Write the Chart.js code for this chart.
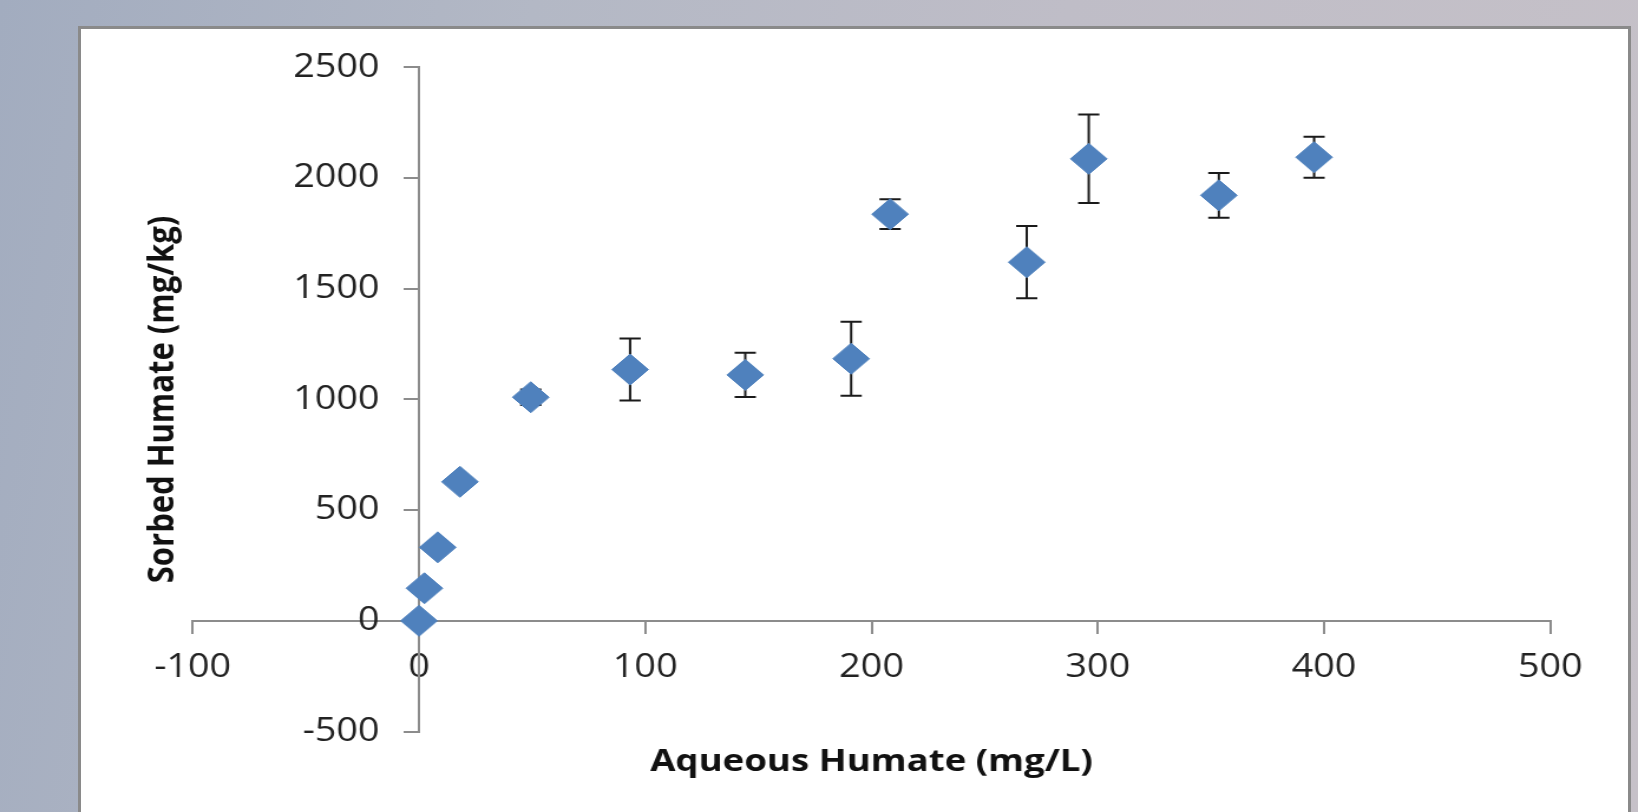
<!DOCTYPE html>
<html>
<head>
<meta charset="utf-8">
<script src="https://cdn.jsdelivr.net/npm/chart.js@4.4.1/dist/chart.umd.min.js"></script>
<style>
html, body { margin: 0; padding: 0; width: 1638px; height: 812px; overflow: hidden; }
body { position: relative; background: linear-gradient(100deg, #a2acbf 0%, #b3b8c5 30%, #bfbdc7 60%, #c6c1c8 100%); }
#panel { position: absolute; left: 78px; top: 26px; width: 1547px; height: 820px; background: #ffffff; border: 3px solid #8a8a8a; border-bottom: none; }
#wrap { position: absolute; left: 0; top: 0; width: 1388px; height: 812px; transform: scaleX(1.18012); transform-origin: 0 0; }
canvas { display: block; }
</style>
</head>
<body>
<div id="panel"></div>
<div id="wrap"><canvas id="c" width="1388" height="812" style="width:1388px;height:812px"></canvas></div>
<script>
// ---- data ----
const aqueousHumate = [0, 2.4, 8.3, 18.1, 49.4, 93.3, 144.2, 191.0, 208.2, 268.6, 296.0, 353.5, 395.6];
const sorbedHumate  = [0, 147, 332, 628, 1010, 1135, 1111, 1184, 1837, 1620, 2087, 1922, 2094];
const sorbedError   = [0, 0, 0, 0, 35, 140, 100, 167, 67, 163, 200, 101, 93];
const xTicks = [-100, 0, 100, 200, 300, 400, 500];
const yTicks = [-500, 0, 500, 1000, 1500, 2000, 2500];
const xTitle = 'Aqueous Humate (mg/L)';
const yTitle = 'Sorbed Humate (mg/kg)';

const points = aqueousHumate.map((v, i) => ({ x: v, y: sorbedHumate[i] }));

const Y_TICK_LEN = 12, Y_TICK_PAD = 21.4;

const errorBarPlugin = {
  id: 'errorBars',
  beforeDraw(chart) {
    // labels of an axis placed at x = 0 sit flush on the line; move them out past tick + padding
    const ys = chart.scales.y;
    const items = ys.getLabelItems(chart.chartArea);
    if (!ys._shifted) {
      items.forEach(it => { it.options.translation[0] -= (Y_TICK_LEN + Y_TICK_PAD); });
      ys._shifted = true;
    }
  },
  afterUpdate(chart) { chart.scales.y._shifted = false; },
  beforeDatasetsDraw(chart) {
    const ctx = chart.ctx;
    const xs = chart.scales.x, ys = chart.scales.y;
    const capHalf = 9;
    ctx.save();
    ctx.strokeStyle = '#1a1a1a';
    ctx.lineWidth = 2;
    aqueousHumate.forEach((xv, i) => {
      const e = sorbedError[i];
      if (!e) return;
      const px = xs.getPixelForValue(xv);
      const top = ys.getPixelForValue(sorbedHumate[i] + e);
      const bot = ys.getPixelForValue(sorbedHumate[i] - e);
      ctx.beginPath();
      ctx.moveTo(px, top); ctx.lineTo(px, bot);
      ctx.moveTo(px - capHalf, top); ctx.lineTo(px + capHalf, top);
      ctx.moveTo(px - capHalf, bot); ctx.lineTo(px + capHalf, bot);
      ctx.stroke();
    });
    ctx.restore();
  }
};

const tickFont = { family: 'Open Sans', size: 32, weight: 'normal' };
const titleFont = { family: 'Open Sans', size: 31, weight: 'bold' };
const axisGray = '#8c8c8c';

new Chart(document.getElementById('c'), {
  type: 'scatter',
  data: {
    datasets: [{
      data: points,
      xAxisID: 'x',
      yAxisID: 'y',
      showLine: false,
      pointStyle: 'rectRot',
      pointRadius: 15.5,
      pointHoverRadius: 15.5,
      pointBorderWidth: 1,
      backgroundColor: '#4f81bd',
      borderColor: '#4f81bd'
    }]
  },
  options: {
    responsive: false,
    animation: false,
    devicePixelRatio: 1,
    layout: { padding: { left: 0, top: 67.4, right: 74.3, bottom: 0 } },
    plugins: { legend: { display: false }, tooltip: { enabled: false } },
    scales: {
      x: {
        axis: 'x', type: 'linear', position: { y: 0 },
        min: xTicks[0], max: xTicks[xTicks.length - 1],
        afterBuildTicks: (s) => { s.ticks = xTicks.map(v => ({ value: v })); },
        ticks: { padding: 16, font: tickFont, color: '#222222', callback: (v) => String(v) },
        grid: { drawOnChartArea: false, color: axisGray, lineWidth: 2, tickLength: 12 },
        border: { color: axisGray, width: 2 }
      },
      y: {
        axis: 'y', type: 'linear', position: { x: 0 },
        min: yTicks[0], max: yTicks[yTicks.length - 1],
        afterBuildTicks: (s) => { s.ticks = yTicks.map(v => ({ value: v })); },
        ticks: { padding: Y_TICK_PAD, font: tickFont, color: '#222222', callback: (v) => String(v) },
        grid: { drawOnChartArea: false, color: axisGray, lineWidth: 2, tickLength: Y_TICK_LEN },
        border: { color: axisGray, width: 2 }
      },
      xt: {
        axis: 'x', type: 'linear', position: 'bottom',
        min: xTicks[0], max: xTicks[xTicks.length - 1],
        ticks: { display: false },
        grid: { display: false, drawTicks: false },
        border: { display: false },
        title: { display: true, text: xTitle, font: titleFont, color: '#111111', padding: { top: 11.9, bottom: 31.4 } }
      },
      yt: {
        axis: 'y', type: 'linear', position: 'left',
        min: yTicks[0], max: yTicks[yTicks.length - 1],
        ticks: { display: false },
        grid: { display: false, drawTicks: false },
        border: { display: false },
        title: { display: true, text: yTitle, font: titleFont, color: '#111111', padding: { top: 119.5, bottom: 6.6 } }
      }
    }
  },
  plugins: [errorBarPlugin]
});
</script>
</body>
</html>
